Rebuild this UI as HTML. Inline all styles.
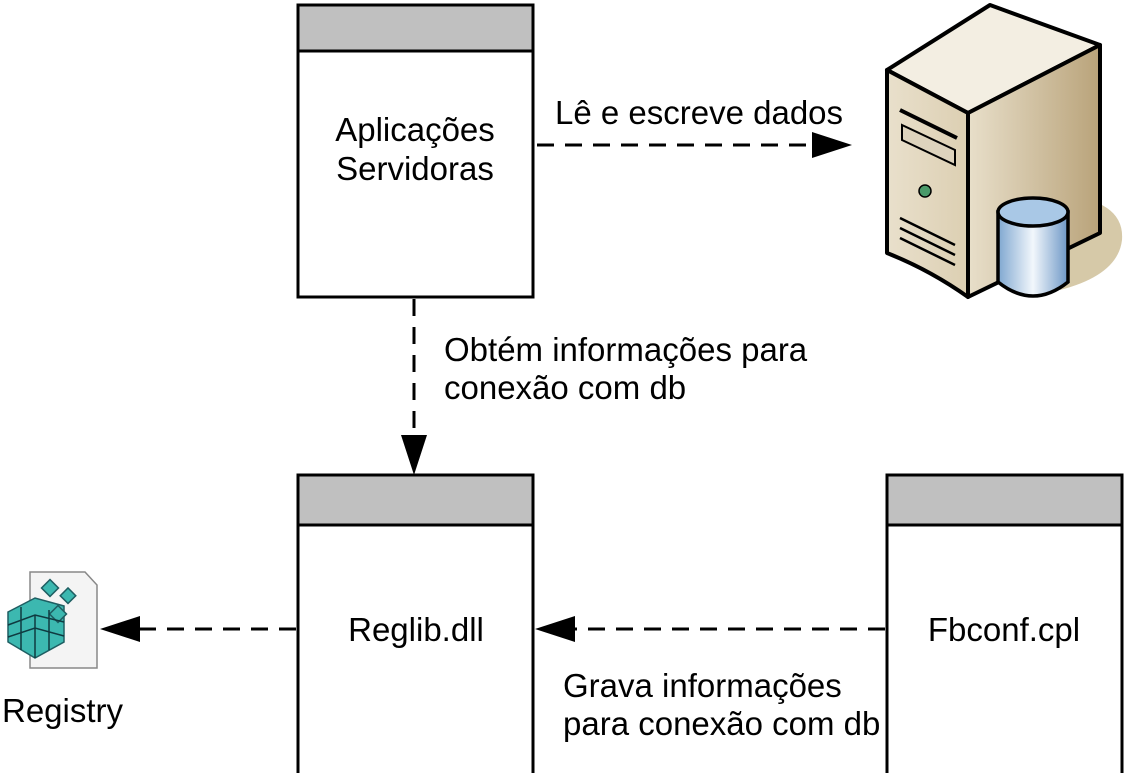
<!DOCTYPE html>
<html><head><meta charset="utf-8"><style>
html,body{margin:0;padding:0;background:#fff;}
svg{display:block}
text{font-family:"Liberation Sans",sans-serif;font-size:33px;fill:#000}
</style></head><body>
<svg width="1126" height="773" viewBox="0 0 1126 773" xmlns="http://www.w3.org/2000/svg">
<defs>
<linearGradient id="front" x1="0" x2="1" y1="0" y2="0"><stop offset="0" stop-color="#e9e0cc"/><stop offset="1" stop-color="#dccfb2"/></linearGradient>
<linearGradient id="side" x1="0" x2="1"><stop offset="0" stop-color="#e8dfca"/><stop offset="1" stop-color="#b9a37a"/></linearGradient>
<linearGradient id="cyl" x1="0" x2="1"><stop offset="0" stop-color="#7fa7d0"/><stop offset="0.5" stop-color="#f2f7fc"/><stop offset="1" stop-color="#6d97c6"/></linearGradient>
</defs>
<g stroke="#000" stroke-width="3">
<rect x="298" y="5" width="235" height="292" fill="#fff"/>
<rect x="298" y="5" width="235" height="46" fill="#c0c0c0"/>
<rect x="298" y="475" width="235" height="310" fill="#fff"/>
<rect x="298" y="475" width="235" height="50" fill="#c0c0c0"/>
<rect x="887" y="475" width="235" height="310" fill="#fff"/>
<rect x="887" y="475" width="235" height="50" fill="#c0c0c0"/>
</g>
<text x="415" y="141" text-anchor="middle">Aplicações</text>
<text x="415" y="180" text-anchor="middle">Servidoras</text>
<text x="416" y="641" text-anchor="middle">Reglib.dll</text>
<text x="1004" y="641" text-anchor="middle">Fbconf.cpl</text>
<g stroke="#000" stroke-width="3" stroke-dasharray="17,11" fill="none">
<line x1="537" y1="145" x2="815" y2="145"/>
<line x1="414" y1="299" x2="414" y2="437"/>
<line x1="296" y1="629" x2="138" y2="629"/>
<line x1="885" y1="629" x2="573" y2="629"/>
</g>
<g fill="#000">
<polygon points="812,132 852,145 812,158"/>
<polygon points="401,435 427,435 414,475"/>
<polygon points="140,616 140,642 100,629"/>
<polygon points="575,616 575,642 535,629"/>
</g>
<text x="555" y="124">Lê e escreve dados</text>
<text x="444" y="361">Obtém informações para</text>
<text x="444" y="399">conexão com db</text>
<text x="563" y="697">Grava informações</text>
<text x="563" y="735">para conexão com db</text>
<text x="2" y="722">Registry</text>
<path d="M1060,195 Q1125,200 1122,240 Q1118,275 1060,290 Z" fill="#d6c9a8"/>
<g stroke="#000" stroke-width="4" stroke-linejoin="round">
<path d="M887,70 L990,5 L1100,45 L968,113 Z" fill="#f3eee2"/>
<path d="M968,113 L1100,45 L1100,233 L968,297 Z" fill="url(#side)"/>
<path d="M887,70 L968,113 L968,297 Q930,270 887,253 Z" fill="url(#front)"/>
</g>
<g stroke="#000" stroke-width="3" fill="none">
<path d="M900,110 L957,138" stroke-width="4"/>
<path d="M902,125 L955,150 L955,165 L902,140 Z" fill="#ddd3bd" stroke-width="2"/>
<path d="M900,218 L955,245 M900,228 L955,255 M900,238 L955,265" stroke-width="2.5"/>
</g>
<circle cx="925" cy="191" r="6" fill="#4a9a6a" stroke="#000" stroke-width="1.5"/>
<g stroke="#000" stroke-width="3.5">
<path d="M998,212 L998,282 Q1033,310 1068,282 L1068,212 Z" fill="url(#cyl)"/>
<ellipse cx="1033" cy="212" rx="35" ry="14" fill="#a9c8e6"/>
</g>
<path d="M30,572 L85,572 L97,585 L97,668 L30,668 Z" fill="#f4f4f4" stroke="#888" stroke-width="1.5"/>
<g fill="#3cb8b0" stroke="#1e5e62" stroke-width="1.5">
<rect x="44" y="582" width="12" height="12" transform="rotate(45 50 588)"/>
<rect x="63" y="590" width="11" height="11" transform="rotate(45 68 595)"/>
<path d="M8,612 L35,598 L64,606 L64,642 L35,658 L8,642 Z"/>
<rect x="52" y="608" width="12" height="12" transform="rotate(45 58 614)"/>
</g>
<g stroke="#0f3a40" stroke-width="1.5" fill="none">
<path d="M8,625 L35,615 L64,622 M8,637 L35,628 L64,636 M35,615 L35,658 M21,607 L21,650 M49,610 L49,650"/>
</g>
</svg>
</body></html>
